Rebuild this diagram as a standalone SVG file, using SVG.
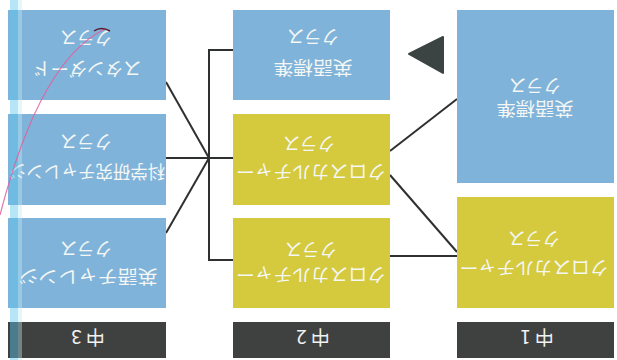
<svg xmlns="http://www.w3.org/2000/svg" width="617" height="360" viewBox="0 0 617 360">
<style>
.blue{fill:#80b3da}
.yellow{fill:#d5c93d}
.dark{fill:#3f4141}
.t{font-family:"Noto Sans CJK JP","Noto Sans",sans-serif;font-size:18px;fill:#f4f7f4;text-anchor:middle;dominant-baseline:central}
.lbl{font-family:"Noto Sans CJK JP","Noto Sans",sans-serif;font-size:19px;fill:#f2f2f2;text-anchor:middle;dominant-baseline:central;letter-spacing:4px}
.conn{fill:none;stroke:#2f3030;stroke-width:2}
</style>
<rect width="617" height="360" fill="#ffffff"/>
<g id="connectors">
<path class="conn" d="M166 82 L209 158"/>
<path class="conn" d="M166 158 L233 158"/>
<path class="conn" d="M166 233 L209 158"/>
<path class="conn" d="M233 50 H209 V260 H233"/>
<path class="conn" d="M390 151 L457 99"/>
<path class="conn" d="M390 175 L457 252"/>
<path class="conn" d="M390 256 H457"/>
</g>
<g id="c3-standard">
<rect class="blue" x="8" y="10" width="158" height="90"/>
<text class="t" x="87" y="70" textLength="109" lengthAdjust="spacingAndGlyphs" transform="rotate(180 87 70)">スタンダード</text>
<text class="t" x="86" y="39" textLength="52" lengthAdjust="spacingAndGlyphs" transform="rotate(180 86 39)">クラス</text>
</g>
<g id="c3-science">
<rect class="blue" x="8" y="114" width="158" height="91"/>
<text class="t" x="87" y="173" textLength="156" lengthAdjust="spacingAndGlyphs" transform="rotate(180 87 173)">科学研究チャレンジ</text>
<text class="t" x="86" y="143" textLength="52" lengthAdjust="spacingAndGlyphs" transform="rotate(180 86 143)">クラス</text>
</g>
<g id="c3-english">
<rect class="blue" x="8" y="218" width="158" height="90"/>
<text class="t" x="88" y="278" textLength="139" lengthAdjust="spacingAndGlyphs" transform="rotate(180 88 278)">英語チャレンジ</text>
<text class="t" x="86" y="250" textLength="52" lengthAdjust="spacingAndGlyphs" transform="rotate(180 86 250)">クラス</text>
</g>
<g id="c3-label">
<rect class="dark" x="8" y="322" width="158" height="36"/>
<text class="lbl" x="86" y="338" transform="rotate(180 86 338)">中3</text>
</g>
<g id="c2-standard">
<rect class="blue" x="233" y="10" width="157" height="90"/>
<text class="t" x="313" y="69" textLength="79" lengthAdjust="spacingAndGlyphs" transform="rotate(180 313 69)">英語標準</text>
<text class="t" x="313" y="38" textLength="52" lengthAdjust="spacingAndGlyphs" transform="rotate(180 313 38)">クラス</text>
</g>
<g id="c2-cross1">
<rect class="yellow" x="233" y="114" width="157" height="91"/>
<text class="t" x="311" y="173" textLength="150" lengthAdjust="spacingAndGlyphs" transform="rotate(180 311 173)">クロスカルチャー</text>
<text class="t" x="309" y="145" textLength="52" lengthAdjust="spacingAndGlyphs" transform="rotate(180 309 145)">クラス</text>
</g>
<g id="c2-cross2">
<rect class="yellow" x="233" y="218" width="157" height="90"/>
<text class="t" x="311" y="276" textLength="150" lengthAdjust="spacingAndGlyphs" transform="rotate(180 311 276)">クロスカルチャー</text>
<text class="t" x="311" y="251" textLength="52" lengthAdjust="spacingAndGlyphs" transform="rotate(180 311 251)">クラス</text>
</g>
<g id="c2-label">
<rect class="dark" x="233" y="322" width="157" height="36"/>
<text class="lbl" x="311" y="338" transform="rotate(180 311 338)">中2</text>
</g>
<g id="c1-standard">
<rect class="blue" x="457" y="10" width="157" height="173"/>
<text class="t" x="535" y="110" textLength="77" lengthAdjust="spacingAndGlyphs" transform="rotate(180 535 110)">英語標準</text>
<text class="t" x="535" y="87" textLength="52" lengthAdjust="spacingAndGlyphs" transform="rotate(180 535 87)">クラス</text>
</g>
<g id="c1-cross">
<rect class="yellow" x="457" y="197" width="157" height="111"/>
<text class="t" x="534" y="269" textLength="149" lengthAdjust="spacingAndGlyphs" transform="rotate(180 534 269)">クロスカルチャー</text>
<text class="t" x="534" y="240" textLength="52" lengthAdjust="spacingAndGlyphs" transform="rotate(180 534 240)">クラス</text>
</g>
<g id="c1-label">
<rect class="dark" x="457" y="322" width="157" height="36"/>
<text class="lbl" x="535" y="338" transform="rotate(180 535 338)">中1</text>
</g>
<g id="pointer">
<polygon points="409,54 443,37 443,73" fill="#3c4343" stroke="#3c4343" stroke-width="2" stroke-linejoin="round"/>
</g>
<g id="marks">
<rect x="10" y="0" width="8" height="360" fill="#5cc6ec" opacity="0.45"/>
<rect x="18" y="0" width="4" height="360" fill="#bfeaf6" opacity="0.4"/>
<path d="M105 29 Q40 60 0 215" fill="none" stroke="#e0609a" stroke-width="1.2" opacity="0.85"/>
<path d="M94 31 Q101 26 110 31" fill="none" stroke="#5a1a2a" stroke-width="1.5"/>
</g>
</svg>
